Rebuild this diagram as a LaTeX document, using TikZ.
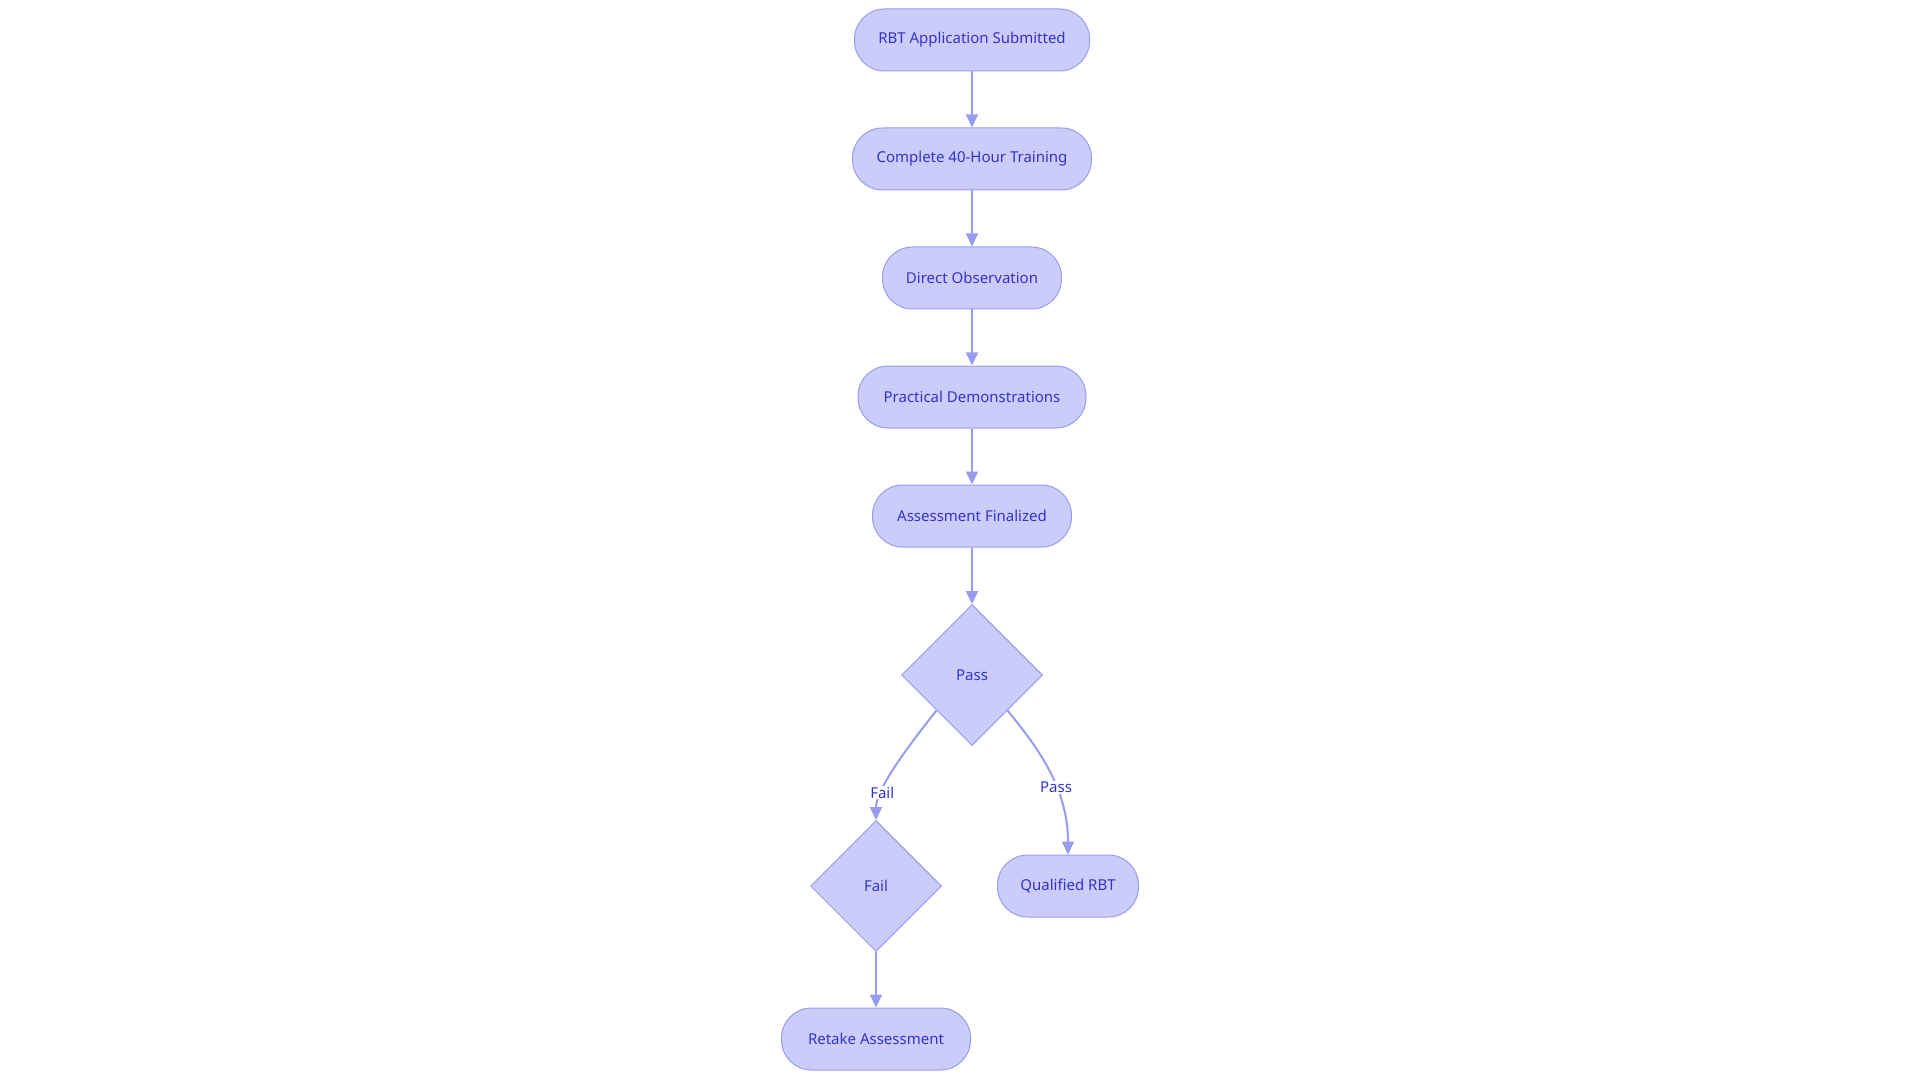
\documentclass[tikz,border=0pt]{standalone}
\usepackage{fontspec}
\setmainfont{Noto Sans}
\usetikzlibrary{shapes.geometric,arrows.meta}
\definecolor{nfill}{HTML}{CBCCFA}
\definecolor{nline}{HTML}{9A9CEE}
\definecolor{ntext}{HTML}{3333CC}
\definecolor{ecol}{HTML}{979CEE}
\tikzset{x=1pt,y=-1pt,
 pill/.style={draw=nline,fill=nfill,rounded corners=30pt,minimum height=62pt,text=ntext,font=\fontsize{15}{18}\selectfont,line width=1pt},
 dia/.style={draw=nline,fill=nfill,diamond,aspect=1,inner sep=0pt,text=ntext,font=\fontsize{15}{18}\selectfont,line width=1pt},
 conn/.style={draw=ecol,line width=2pt,-{Triangle[length=13pt,width=12pt]}},
 lbl/.style={fill=white,text=ntext,font=\fontsize{15}{18}\selectfont,inner sep=1pt}}
\begin{document}
\begin{tikzpicture}
\useasboundingbox (0,0) rectangle (1920,1083);
\node[pill,minimum width=235pt] (a) at (972,40) {RBT Application Submitted};
\node[pill,minimum width=239pt] (b) at (972,159) {Complete 40-Hour Training};
\node[pill,minimum width=179pt] (c) at (972,278) {Direct Observation};
\node[pill,minimum width=228pt] (d) at (972,397) {Practical Demonstrations};
\node[pill,minimum width=199pt] (e) at (972,516) {Assessment Finalized};
\node[dia,minimum size=141pt] (p) at (972,675) {Pass};
\node[dia,minimum size=131pt] (f) at (876,886) {Fail};
\node[pill,minimum width=141pt] (q) at (1068,886) {Qualified RBT};
\node[pill,minimum width=189pt] (r) at (876,1039) {Retake Assessment};
\draw[conn] (a) -- (b);
\draw[conn] (b) -- (c);
\draw[conn] (c) -- (d);
\draw[conn] (d) -- (e);
\draw[conn] (e) -- (p);
\draw[conn] (p.south west) .. controls (905,750) and (876,790) .. node[lbl,pos=0.72]{Fail} (f.north);
\draw[conn] (p.south east) .. controls (1040,750) and (1068,790) .. node[lbl,pos=0.6]{Pass} (q.north);
\draw[conn] (f) -- (r);
\end{tikzpicture}
\end{document}
